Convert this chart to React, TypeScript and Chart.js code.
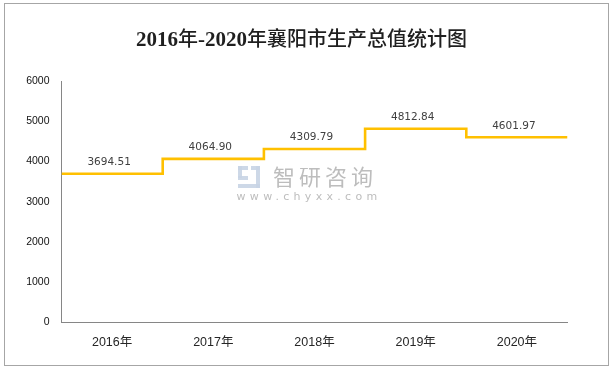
import React, { useEffect, useRef } from "react";
import { Chart, registerables } from "chart.js";

Chart.register(...registerables);

const TITLE = "2016年-2020年襄阳市生产总值统计图";
const categories = ["2016年", "2017年", "2018年", "2019年", "2020年"];
const gdpValues = [3694.51, 4064.9, 4309.79, 4812.84, 4601.97];
const yTickValues = [0, 1000, 2000, 3000, 4000, 5000, 6000];
const watermarkName = "智研咨询";
const watermarkUrl = "www.chyxx.com";

export default function App() {
  const ref = useRef<HTMLCanvasElement | null>(null);

  useEffect(() => {
    const canvas = ref.current;
    if (!canvas) return;

    const stepData = gdpValues.map((v, i) => ({ x: i - 0.5, y: v }));
    stepData.push({ x: gdpValues.length - 0.5, y: gdpValues[gdpValues.length - 1] });

    const decor = {
      id: "decor",
      beforeDraw(chart: any) {
        const ctx = chart.ctx as CanvasRenderingContext2D;
        ctx.save();
        ctx.fillStyle = "#ffffff";
        ctx.fillRect(0, 0, chart.width, chart.height);
        // outer frame
        ctx.strokeStyle = "#a6a6a6";
        ctx.lineWidth = 1;
        ctx.strokeRect(4.5, 3.5, 604, 362);

        // title, drawn in runs (Latin serif digits, CJK glyphs)
        const runs = TITLE.match(/[\x00-\x7F]+|[^\x00-\x7F]+/g) || [];
        const latinFont = 'bold 21px "Liberation Serif", serif';
        const cjkFont = '500 20px "Noto Sans CJK SC", sans-serif';
        const isLatin = (s: string) => /^[\x00-\x7F]+$/.test(s);
        let total = 0;
        const widths = runs.map((r) => {
          ctx.font = isLatin(r) ? latinFont : cjkFont;
          const w = ctx.measureText(r).width;
          total += w;
          return w;
        });
        let x = 301.5 - total / 2;
        ctx.fillStyle = "#1f1f1f";
        ctx.textBaseline = "alphabetic";
        ctx.textAlign = "left";
        runs.forEach((r, i) => {
          ctx.font = isLatin(r) ? latinFont : cjkFont;
          ctx.fillText(r, x, 46);
          x += widths[i];
        });

        // watermark
        ctx.fillStyle = "rgba(200,212,228,0.9)";
        ctx.fillRect(238, 166, 10, 4);
        ctx.fillRect(238, 166, 4, 12);
        ctx.fillRect(238, 176, 10, 4);
        ctx.fillRect(251, 166, 9, 4);
        ctx.fillRect(256, 166, 4, 22);
        ctx.fillRect(238, 184, 22, 4);
        ctx.fillStyle = "#bdbdbd";
        ctx.font = '22px "Noto Sans CJK SC", sans-serif';
        ctx.textBaseline = "middle";
        ctx.textAlign = "center";
        (ctx as any).letterSpacing = "4px";
        ctx.fillText(watermarkName, 325, 177);
        ctx.font = '11px "DejaVu Sans", sans-serif';
        (ctx as any).letterSpacing = "4.3px";
        ctx.fillText(watermarkUrl, 309, 197);
        (ctx as any).letterSpacing = "0px";
        ctx.restore();
      },
      afterDatasetsDraw(chart: any) {
        const ctx = chart.ctx as CanvasRenderingContext2D;
        const xs = chart.scales.x;
        const ys = chart.scales.y;
        ctx.save();
        ctx.font = '10.5px "DejaVu Sans", sans-serif';
        ctx.fillStyle = "#404040";
        ctx.textAlign = "center";
        ctx.textBaseline = "middle";
        gdpValues.forEach((v, i) => {
          const px = xs.getPixelForValue(i) - 3;
          const py = ys.getPixelForValue(v) - 11.5;
          ctx.fillText(v.toFixed(2), px, py);
        });
        ctx.restore();
      },
    };

    const chart = new Chart(canvas, {
      type: "line",
      data: {
        datasets: [
          {
            label: "生产总值",
            data: stepData,
            stepped: true,
            borderColor: "#FFC000",
            borderWidth: 2.6,
            pointRadius: 0,
            pointHoverRadius: 0,
            fill: false,
            borderJoinStyle: "miter",
            borderCapStyle: "butt",
          },
        ],
      },
      options: {
        responsive: false,
        animation: false,
        events: [],
        layout: { padding: { left: 0, right: 46.5, top: 81, bottom: 17.5 } },
        plugins: {
          legend: { display: false },
          title: { display: false },
          tooltip: { enabled: false },
        },
        scales: {
          x: {
            type: "linear",
            min: -0.5,
            max: categories.length - 0.5,
            afterBuildTicks: (scale: any) => {
              scale.ticks = categories.map((_, i) => ({ value: i }));
            },
            afterFit: (scale: any) => {
              scale.height = 30;
            },
            grid: { display: false, drawTicks: false },
            border: { display: true, color: "#868686", width: 1 },
            ticks: {
              autoSkip: false,
              maxRotation: 0,
              padding: 13,
              color: "#262626",
              font: { family: '"Liberation Sans", "Noto Sans CJK SC", sans-serif', size: 12.5 },
              callback: (value: any) => categories[Math.round(Number(value))] ?? "",
            },
          },
          y: {
            type: "linear",
            min: 0,
            max: 6000,
            afterBuildTicks: (scale: any) => {
              scale.ticks = yTickValues.map((v) => ({ value: v }));
            },
            afterFit: (scale: any) => {
              scale.width = 61.5;
            },
            grid: { display: false, drawTicks: false },
            border: { display: true, color: "#868686", width: 1 },
            ticks: {
              padding: 12,
              color: "#111111",
              font: { family: '"Liberation Sans", sans-serif', size: 10.5 },
              callback: (value: any) => String(value),
            },
          },
        },
      },
      plugins: [decor],
    } as any);

    return () => chart.destroy();
  }, []);

  return (
    <div style={{ position: "fixed", left: 0, top: 0, width: 614, height: 370, background: "#fff" }}>
      <canvas ref={ref} width={614} height={370} style={{ display: "block", width: 614, height: 370 }} />
    </div>
  );
}
